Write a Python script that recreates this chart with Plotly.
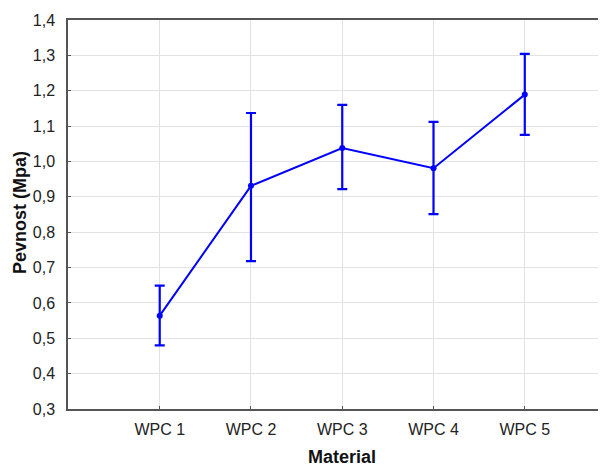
import plotly.graph_objects as go

categories = ["WPC 1", "WPC 2", "WPC 3", "WPC 4", "WPC 5"]
means = [0.564, 0.931, 1.038, 0.981, 1.189]
upper = [0.649, 1.137, 1.160, 1.112, 1.304]
lower = [0.480, 0.718, 0.922, 0.851, 1.075]
y_ticks = [0.3, 0.4, 0.5, 0.6, 0.7, 0.8, 0.9, 1.0, 1.1, 1.2, 1.3, 1.4]

err_plus = [u - m for u, m in zip(upper, means)]
err_minus = [m - l for m, l in zip(means, lower)]

blue = "#0000ff"
font = "Liberation Sans, Arial, sans-serif"

# page body has an 8px default margin; figure occupies 8..606 x 8..466
W, H = 598, 458
L, T, B = 60, 12, 57
pw, ph = W - L, H - T - B

fig = go.Figure()
fig.add_trace(go.Scatter(
    x=categories, y=means, mode="lines+markers",
    line=dict(color=blue, width=2),
    marker=dict(color=blue, size=6),
    error_y=dict(type="data", symmetric=False, array=err_plus, arrayminus=err_minus,
                 color=blue, thickness=2.2, width=5),
    showlegend=False,
))

fig.update_layout(
    width=W, height=H,
    margin=dict(l=L, r=0, t=T, b=B),
    paper_bgcolor="white", plot_bgcolor="white",
    separators=", ",
    font=dict(family=font, size=16, color="#222222"),
    xaxis=dict(
        type="category", range=[-1.005, 4.89],
        showgrid=True, gridcolor="#e2e2e2", gridwidth=1,
        showline=True, linecolor="#555555", linewidth=1.5, mirror=True,
        ticks="inside", ticklen=3, tickcolor="#555555",
        tickfont=dict(family=font, size=16, color="#222222"),
        ticklabelstandoff=5,
    ),
    yaxis=dict(
        range=[0.3, 1.4], tickvals=y_ticks, tickformat=".1f",
        showgrid=True, gridcolor="#e2e2e2", gridwidth=1,
        showline=True, linecolor="#555555", linewidth=1.5,
        ticks="inside", ticklen=3, tickcolor="#555555",
        tickfont=dict(family=font, size=16, color="#222222"),
        ticklabelstandoff=8, zeroline=False,
    ),
    annotations=[
        dict(text="<b>Material</b>", xref="paper", yref="paper",
             x=(342 - 68) / pw, y=-(457 - 409) / ph, xanchor="center", yanchor="middle",
             showarrow=False, font=dict(family=font, size=18, color="#111111")),
        dict(text="<b>Pevnost (Mpa)</b>", xref="paper", yref="paper",
             x=-(68 - 20) / pw, y=(409 - 213) / ph, xanchor="center", yanchor="middle", textangle=-90,
             showarrow=False, font=dict(family=font, size=18, color="#111111")),
    ],
)

fig.write_html("out.html")
